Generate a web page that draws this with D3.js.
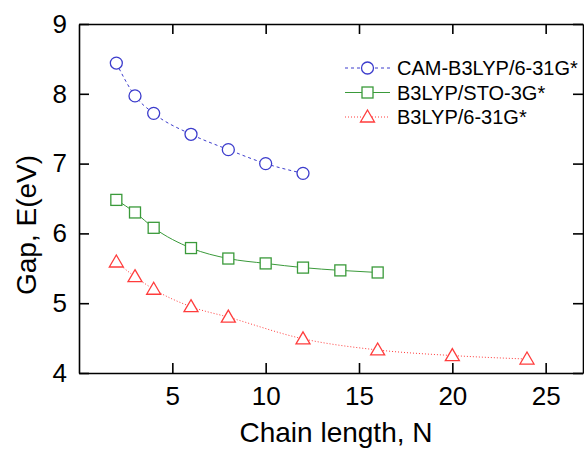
<!DOCTYPE html>
<html>
<head>
<meta charset="utf-8">
<script src="https://cdn.jsdelivr.net/npm/d3@7"></script>
<style>
  body { margin: 0; background: #fff; }
  svg { display: block; }
  svg text { font-family: Arial, "Liberation Sans", sans-serif; }
</style>
</head>
<body>
<svg width="584" height="449"></svg>
<script>
// chain lengths N and gaps (eV)
var camN   = [2, 3, 4, 6, 8, 10, 12];
var camGap = [8.44, 7.97, 7.72, 7.42, 7.20, 7.00, 6.86];
var stoN   = [2, 3, 4, 6, 8, 10, 12, 14, 16];
var stoGap = [6.48, 6.30, 6.08, 5.79, 5.64, 5.57, 5.51, 5.47, 5.44];
var b3N    = [2, 3, 4, 6, 8, 12, 16, 20, 24];
var b3Gap  = [5.59, 5.38, 5.20, 4.95, 4.80, 4.49, 4.33, 4.25, 4.20];
var xTicks = [5, 10, 15, 20, 25];
var yTicks = [4, 5, 6, 7, 8, 9];

var series = [
  { name: "CAM-B3LYP/6-31G*", xs: camN, ys: camGap, color: "#3c3ccc", dash: "3,3", symbol: "circle" },
  { name: "B3LYP/STO-3G*", xs: stoN, ys: stoGap, color: "#3a9a3a", dash: null, symbol: "square" },
  { name: "B3LYP/6-31G*", xs: b3N, ys: b3Gap, color: "#ff3c3c", dash: "1,2", symbol: "triangle" }
];

var svg = d3.select("svg"),
    margin = { top: 24, right: 1, bottom: 76, left: 79 },
    width = +svg.attr("width") - margin.left - margin.right,
    height = +svg.attr("height") - margin.top - margin.bottom;

var x = d3.scaleLinear().domain([0, 27]).range([0, width]),
    y = d3.scaleLinear().domain([4, 9]).range([height, 0]);

var fmt = d3.format("d");

var g = svg.append("g")
    .attr("transform", "translate(" + margin.left + "," + margin.top + ")");

// frame with inward ticks on all four sides
g.append("g")
    .attr("transform", "translate(0," + height + ")")
    .call(d3.axisBottom(x).tickValues(xTicks).tickFormat(fmt).tickSizeInner(-10).tickSizeOuter(0).tickPadding(14))
    .call(styleAxis);
g.append("g")
    .call(d3.axisTop(x).tickValues(xTicks).tickSizeInner(-10).tickSizeOuter(0).tickFormat(""))
    .call(styleAxis);
g.append("g")
    .call(d3.axisLeft(y).tickValues(yTicks).tickFormat(fmt).tickSizeInner(-10).tickSizeOuter(0).tickPadding(12))
    .call(styleAxis);
g.append("g")
    .attr("transform", "translate(" + width + ",0)")
    .call(d3.axisRight(y).tickValues(yTicks).tickSizeInner(-10).tickSizeOuter(0).tickFormat(""))
    .call(styleAxis);

function styleAxis(sel) {
  sel.attr("font-family", null).attr("font-size", null);
  sel.select(".domain").attr("stroke", "#000").attr("stroke-width", 1.6);
  sel.selectAll(".tick line").attr("stroke", "#000").attr("stroke-width", 1.6);
  sel.selectAll(".tick text").attr("fill", "#000").style("font-size", "26px");
}

var line = d3.line()
    .curve(d3.curveMonotoneX)
    .x(function(d) { return x(d[0]); })
    .y(function(d) { return y(d[1]); });

function drawSymbol(sel, kind, color) {
  if (kind === "circle") {
    sel.append("circle").attr("r", 6);
  } else if (kind === "square") {
    sel.append("rect").attr("x", -5.5).attr("y", -5.5).attr("width", 11).attr("height", 11);
  } else {
    sel.append("path").attr("d", "M0,-7L7,5L-7,5Z");
  }
  sel.selectAll("circle,rect,path")
    .attr("fill", "#fff")
    .attr("stroke", color)
    .attr("stroke-width", 1.3);
}

series.forEach(function(s) {
  var pts = s.xs.map(function(v, i) { return [v, s.ys[i]]; });
  g.append("path")
    .datum(pts)
    .attr("fill", "none")
    .attr("stroke", s.color)
    .attr("stroke-width", 1)
    .attr("stroke-dasharray", s.dash)
    .attr("d", line);
  pts.forEach(function(p) {
    var m = g.append("g").attr("transform", "translate(" + x(p[0]) + "," + y(p[1]) + ")");
    drawSymbol(m, s.symbol, s.color);
  });
});

// legend
var legend = svg.append("g").attr("transform", "translate(345,68)");
series.forEach(function(s, i) {
  var row = legend.append("g").attr("transform", "translate(0," + (i * 24.5) + ")");
  row.append("line")
    .attr("x1", 0).attr("x2", 45)
    .attr("stroke", s.color)
    .attr("stroke-width", 1)
    .attr("stroke-dasharray", s.dash);
  var m = row.append("g").attr("transform", "translate(22.5,0)");
  drawSymbol(m, s.symbol, s.color);
  row.append("text")
    .attr("x", 52)
    .attr("y", 7)
    .style("font-size", "20px")
    .text(s.name);
});

// axis titles
svg.append("text")
    .attr("x", margin.left + width / 2 + 5)
    .attr("y", 442)
    .attr("text-anchor", "middle")
    .style("font-size", "28px")
    .text("Chain length, N");

svg.append("text")
    .attr("transform", "translate(36,225) rotate(-90)")
    .attr("text-anchor", "middle")
    .style("font-size", "28px")
    .text("Gap, E(eV)");
</script>
</body>
</html>
